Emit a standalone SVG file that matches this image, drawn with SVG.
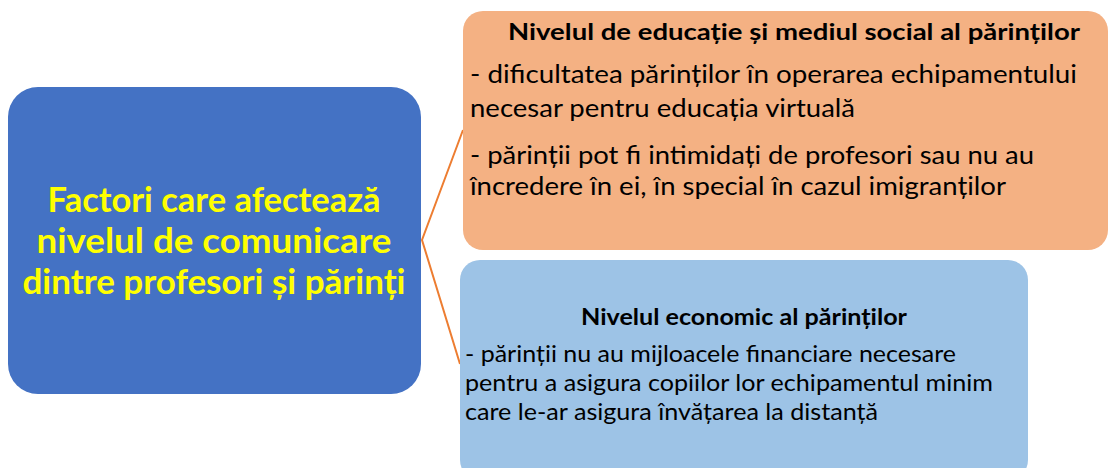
<svg xmlns="http://www.w3.org/2000/svg" width="1109" height="468" viewBox="0 0 1109 468">
<style>
.t{font-family:Lato,"Noto Sans","DejaVu Sans",sans-serif;}
.main{font-size:34px;font-weight:bold;fill:#FFFF00;}
.h{font-size:22px;font-weight:bold;fill:#000;}
.b1{font-size:25px;fill:#000;}
.b2{font-size:23.5px;fill:#000;}
.conn{stroke:#ED7D31;stroke-width:2;fill:none;}
</style>
<rect width="1109" height="468" fill="#fff"/>
<g id="connectors">
<polyline class="conn" points="463,130 422,240 460,364"/>
</g>
<g id="node-main">
<rect x="8" y="87" width="413" height="307" rx="30" fill="#4472C4"/>
<text class="t main" text-anchor="middle" x="214" y="212" textLength="333" lengthAdjust="spacingAndGlyphs">Factori care afectează</text>
<text class="t main" text-anchor="middle" x="214" y="253" textLength="355" lengthAdjust="spacingAndGlyphs">nivelul de comunicare</text>
<text class="t main" text-anchor="middle" x="214" y="294" textLength="383" lengthAdjust="spacingAndGlyphs">dintre profesori și părinți</text>
</g>
<g id="node-education">
<rect x="463" y="11" width="645" height="239" rx="20" fill="#F4B183"/>
<text class="t h" x="508" y="40" textLength="572" lengthAdjust="spacingAndGlyphs">Nivelul de educație și mediul social al părinților</text>
<text class="t b1" x="470" y="83" textLength="607" lengthAdjust="spacingAndGlyphs">- dificultatea părinților în operarea echipamentului</text>
<text class="t b1" x="470" y="117" textLength="385" lengthAdjust="spacingAndGlyphs">necesar pentru educația virtuală</text>
<text class="t b1" x="470" y="164" textLength="564" lengthAdjust="spacingAndGlyphs">- părinții pot fi intimidați de profesori sau nu au</text>
<text class="t b1" x="470" y="195" textLength="536" lengthAdjust="spacingAndGlyphs">încredere în ei, în special în cazul imigranților</text>
</g>
<g id="node-economic">
<rect x="460" y="260" width="568" height="220" rx="20" fill="#9DC3E6"/>
<text class="t h" x="744" y="325" text-anchor="middle" textLength="326" lengthAdjust="spacingAndGlyphs">Nivelul economic al părinților</text>
<text class="t b2" x="465" y="362" textLength="491" lengthAdjust="spacingAndGlyphs">- părinții nu au mijloacele financiare necesare</text>
<text class="t b2" x="465" y="391" textLength="528" lengthAdjust="spacingAndGlyphs">pentru a asigura copiilor lor echipamentul minim</text>
<text class="t b2" x="465" y="420" textLength="413" lengthAdjust="spacingAndGlyphs">care le-ar asigura învățarea la distanță</text>
</g>
</svg>
